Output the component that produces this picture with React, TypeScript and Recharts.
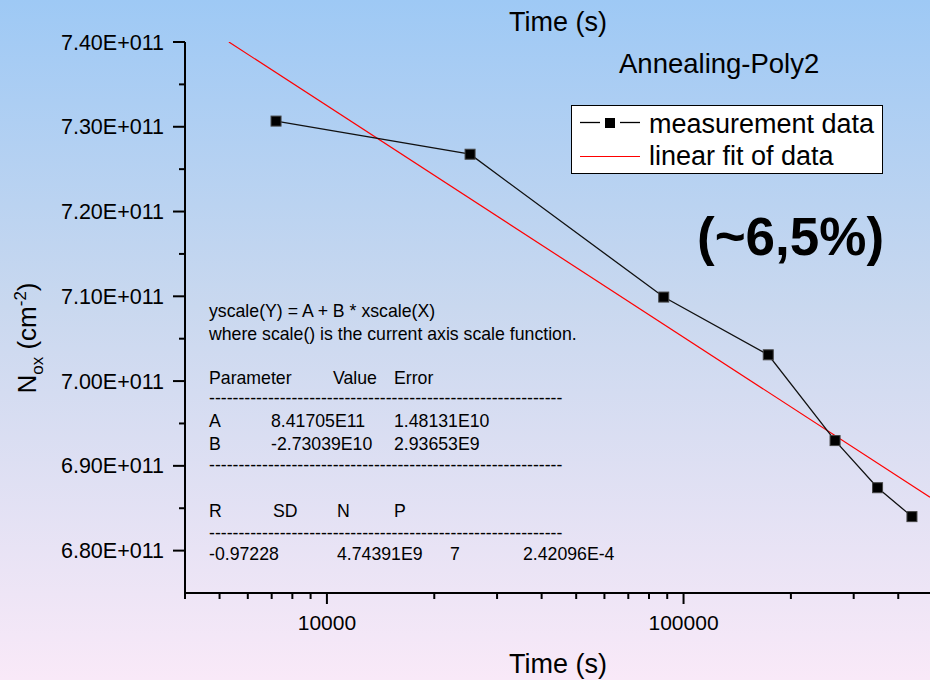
import React from 'react';
import { LineChart, Line, XAxis, YAxis, Legend } from 'recharts';

// measured points (time in s, N_ox in cm^-2)
const timeS = [7200, 25200, 88000, 172800, 266000, 350000, 437000];
const noxValues = [7.3067e11, 7.2676e11, 7.0991e11, 7.031e11, 6.9298e11, 6.8742e11, 6.8401e11];

// linear fit endpoints
const fitTime = [5310, 491000];
const fitNox = [7.4e11, 6.863e11];

const xTicks = [
  4000, 5000, 6000, 7000, 8000, 9000, 10000, 20000, 30000, 40000, 50000, 60000, 70000, 80000,
  90000, 100000, 200000, 300000, 400000,
];
const xMajor = [10000, 100000];
const yTicks = [
  6.8e11, 6.85e11, 6.9e11, 6.95e11, 7.0e11, 7.05e11, 7.1e11, 7.15e11, 7.2e11, 7.25e11, 7.3e11,
  7.35e11, 7.4e11,
];

const measured = timeS.map((x, i) => ({ x, y: noxValues[i] }));
const fitted = fitTime.map((x, i) => ({ x, y: fitNox[i] }));

const FONT = '"Liberation Sans", Arial, sans-serif';

const XTick = (props: any) => {
  const { x, y, payload } = props;
  const major = xMajor.includes(payload.value);
  return (
    <g>
      <line x1={x} x2={x} y1={y} y2={y + (major ? 11 : 6)} stroke="#000" strokeWidth={2} />
      {major && (
        <text x={x} y={y + 37} textAnchor="middle" fontSize={21} fontFamily={FONT} fill="#000">
          {payload.value}
        </text>
      )}
    </g>
  );
};

const YTick = (props: any) => {
  const { x, y, payload } = props;
  const major = Math.round(payload.value / 1e9) % 10 === 0;
  return (
    <g>
      <line x1={x - (major ? 12 : 6)} x2={x} y1={y} y2={y} stroke="#000" strokeWidth={2} />
      {major && (
        <text x={x - 21} y={y + 7.5} textAnchor="end" fontSize={21.5} fontFamily={FONT} fill="#000">
          {(payload.value / 1e11).toFixed(2) + 'E+011'}
        </text>
      )}
    </g>
  );
};

const SquareDot = (props: any) => {
  const { cx, cy, index } = props;
  if (cx == null || cy == null) return null;
  return <rect key={'d' + index} x={cx - 5} y={cy - 5} width={10} height={10} fill="#000" stroke="#444" strokeWidth={1} />;
};

const LegendBox = () => (
  <svg width={313} height={70} style={{ display: 'block' }}>
    <rect x={0.5} y={0.5} width={311} height={68} fill="#fff" stroke="#000" strokeWidth={1} />
    <line x1={9} x2={29} y1={17.5} y2={17.5} stroke="#000" strokeWidth={1.3} />
    <rect x={34} y={13} width={10} height={10} fill="#000" />
    <line x1={49} x2={69} y1={17.5} y2={17.5} stroke="#000" strokeWidth={1.3} />
    <text x={78} y={28} fontSize={27} fontFamily={FONT} fill="#000">measurement data</text>
    <line x1={9} x2={69} y1={51.5} y2={51.5} stroke="#ff0000" strokeWidth={1.2} />
    <text x={78} y={60} fontSize={27} fontFamily={FONT} fill="#000">linear fit of data</text>
  </svg>
);

const statStyle = { fontSize: 17.7, fontFamily: FONT, fill: '#000' };
const dashes = '-'.repeat(60);

export default function App() {
  return (
    <div
      style={{
        position: 'fixed',
        left: 0,
        top: 0,
        width: 930,
        height: 680,
        background: 'linear-gradient(to bottom, #9ec9f5 0%, #c9d8ef 45%, #f9e9f8 100%)',
        overflow: 'hidden',
      }}
    >
      <LineChart width={930} height={680} margin={{ top: 42, right: 0, bottom: 0, left: 0 }}>
        <XAxis
          dataKey="x"
          type="number"
          scale="log"
          domain={[4000, 491000]}
          allowDataOverflow
          ticks={xTicks}
          interval={0}
          height={87}
          tickSize={0}
          tickMargin={0}
          tickLine={false}
          tick={<XTick />}
          axisLine={{ stroke: '#000', strokeWidth: 2 }}
        />
        <YAxis
          dataKey="y"
          type="number"
          domain={[6.75e11, 7.4e11]}
          allowDataOverflow
          ticks={yTicks}
          interval={0}
          width={185}
          tickSize={0}
          tickMargin={0}
          tickLine={false}
          tick={<YTick />}
          axisLine={{ stroke: '#000', strokeWidth: 2 }}
        />
        <Legend
          layout="vertical"
          align="center"
          verticalAlign="middle"
          wrapperStyle={{ left: 571, top: 105, width: 313, height: 70 }}
          content={() => <LegendBox />}
        />
        <Line
          data={fitted}
          dataKey="y"
          name="linear fit of data"
          stroke="#ff0000"
          strokeWidth={1.2}
          dot={false}
          isAnimationActive={false}
        />
        <Line
          data={measured}
          dataKey="y"
          name="measurement data"
          stroke="#111"
          strokeWidth={1.3}
          dot={<SquareDot />}
          isAnimationActive={false}
        />
      </LineChart>
      <svg
        width={930}
        height={680}
        style={{ position: 'absolute', left: 0, top: 0, pointerEvents: 'none' }}
      >
        <text x={558} y={31} textAnchor="middle" fontSize={27} fontFamily={FONT}>Time (s)</text>
        <text x={558} y={673} textAnchor="middle" fontSize={27} fontFamily={FONT}>Time (s)</text>
        <text x={619} y={73} fontSize={27.5} fontFamily={FONT}>Annealing-Poly2</text>
        <text x={697} y={255} fontSize={53} fontWeight="bold" fontFamily={FONT}>(~6,5%)</text>
        <text transform="rotate(-90)" x={-338} y={36} textAnchor="middle" fontSize={26} fontFamily={FONT}>
          <tspan>N</tspan>
          <tspan fontSize={17} dy={7}>ox</tspan>
          <tspan dy={-7}> (cm</tspan>
          <tspan fontSize={17} dy={-10}>-2</tspan>
          <tspan dy={10}>)</tspan>
        </text>
        <g style={statStyle as any}>
          <text x={209} y={317}>yscale(Y) = A + B * xscale(X)</text>
          <text x={209} y={340}>where scale() is the current axis scale function.</text>
          <text x={209} y={384}>Parameter</text>
          <text x={333} y={384}>Value</text>
          <text x={394} y={384}>Error</text>
          <text x={209} y={404}>{dashes}</text>
          <text x={209} y={427}>A</text>
          <text x={271} y={427}>8.41705E11</text>
          <text x={394} y={427}>1.48131E10</text>
          <text x={209} y={450}>B</text>
          <text x={271} y={450}>-2.73039E10</text>
          <text x={394} y={450}>2.93653E9</text>
          <text x={209} y={471}>{dashes}</text>
          <text x={209} y={517}>R</text>
          <text x={273} y={517}>SD</text>
          <text x={337} y={517}>N</text>
          <text x={394} y={517}>P</text>
          <text x={209} y={539}>{dashes}</text>
          <text x={209} y={560}>-0.97228</text>
          <text x={337} y={560}>4.74391E9</text>
          <text x={450} y={560}>7</text>
          <text x={523} y={560}>2.42096E-4</text>
        </g>
      </svg>
    </div>
  );
}
